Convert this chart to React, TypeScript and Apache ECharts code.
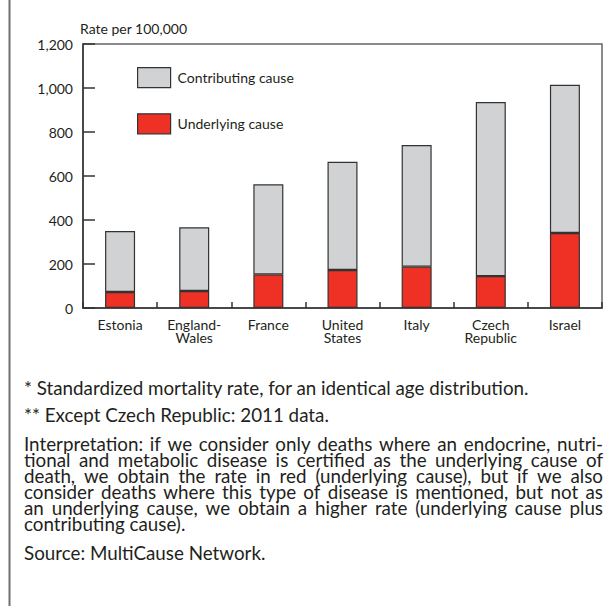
import React, { useEffect, useRef } from 'react';
import * as echarts from 'echarts';

const categories = ['Estonia', 'England-\nWales', 'France', 'United\nStates', 'Italy', 'Czech\nRepublic', 'Israel'];
const underlying = [73, 77, 153, 173, 188, 145, 341];
const contributing = [277, 290, 409, 492, 553, 791, 674];
const yMin = 0;
const yMax = 1200;
const yInterval = 200;
const seriesNames = ['Underlying cause', 'Contributing cause'];
const legendOrder = ['Contributing cause', 'Underlying cause'];
const axisTitle = 'Rate per 100,000';
const notes = [
  '* Standardized mortality rate, for an identical age distribution.',
  '** Except Czech Republic: 2011 data.',
];
const interpretation = [
  'Interpretation: if we consider only deaths where an endocrine, nutri-',
  'tional and metabolic disease is certified as the underlying cause of',
  'death, we obtain the rate in red (underlying cause), but if we also',
  'consider deaths where this type of disease is mentioned, but not as',
  'an underlying cause, we obtain a higher rate (underlying cause plus',
  'contributing cause).',
];
const sourceText = 'Source: MultiCause Network.';

const FONT = 'Lato, "Open Sans", sans-serif';
const TEXT = '#231f20';

export default function App() {
  const ref = useRef<HTMLDivElement>(null);
  useEffect(() => {
    if (!ref.current) return;
    const chart = echarts.init(ref.current, undefined, { renderer: 'svg' });
    const canvas = document.createElement('canvas');
    const ctx = canvas.getContext('2d') as CanvasRenderingContext2D;
    const fs = 18.8;
    const measure = (t: string) => {
      ctx.font = `${fs}px Lato`;
      return ctx.measureText(t).width;
    };

    const textLeft = 24;
    const textRight = 603;
    const elements: any[] = [];
    elements.push({
      type: 'line',
      shape: { x1: 9.5, y1: 0, x2: 9.5, y2: 606 },
      style: { stroke: '#707070', lineWidth: 2 },
    });
    elements.push({
      type: 'text',
      x: 80,
      y: 28,
      style: { text: axisTitle, font: `14px ${FONT}`, fill: TEXT, verticalAlign: 'middle' },
    });
    const addText = (t: string, x: number, y: number) =>
      elements.push({
        type: 'text',
        x,
        y,
        style: {
          text: t,
          font: `${fs}px ${FONT}`,
          lineHeight: 15,
          fill: TEXT,
          verticalAlign: 'middle',
        },
      });
    addText(notes[0], textLeft, 387);
    addText(notes[1], textLeft, 414);
    interpretation.forEach((line, i) => {
      const y = 443 + 16.1 * i;
      if (i === interpretation.length - 1) {
        addText(line, textLeft, y);
        return;
      }
      const words = line.split(' ');
      const widths = words.map((w) => measure(w));
      const sum = widths.reduce((a, b) => a + b, 0);
      let gap = (textRight - textLeft - sum) / (words.length - 1);
      if (gap < 2) gap = 2;
      let x = textLeft;
      words.forEach((w, k) => {
        addText(w, x, y);
        x += widths[k] + gap;
      });
    });
    addText(sourceText, textLeft, 552);

    chart.setOption({
      animation: false,
      textStyle: { fontFamily: FONT },
      grid: {
        left: 83,
        top: 44,
        width: 519,
        height: 264,
        show: true,
        borderColor: '#666',
        borderWidth: 1.5,
        containLabel: false,
      },
      legend: {
        orient: 'vertical',
        left: 137,
        top: 67,
        padding: 0,
        itemWidth: 33,
        itemHeight: 20,
        itemGap: 25,
        icon: 'rect',
        data: legendOrder,
        itemStyle: { borderColor: '#333', borderWidth: 1.2 },
        textStyle: { fontSize: 14, color: TEXT, fontFamily: FONT, padding: [8, 0, 0, 2] },
        selectedMode: false,
      },
      xAxis: {
        type: 'category',
        data: categories,
        axisLine: { lineStyle: { color: '#333', width: 1.5 } },
        axisTick: { show: true, inside: true, length: 6, lineStyle: { color: '#333', width: 1.5 } },
        axisLabel: { color: TEXT, fontSize: 14, lineHeight: 13, margin: 10, fontFamily: FONT, interval: 0 },
        splitLine: { show: false },
      },
      yAxis: {
        type: 'value',
        min: yMin,
        max: yMax,
        interval: yInterval,
        axisLine: { show: true, lineStyle: { color: '#333', width: 1.5 } },
        axisTick: { show: true, inside: true, length: 12, lineStyle: { color: '#333', width: 1.5 } },
        axisLabel: {
          color: TEXT,
          fontSize: 14,
          margin: 10,
          fontFamily: FONT,
          formatter: (v: number) => v.toLocaleString('en-US'),
        },
        splitLine: { show: false },
      },
      series: [
        {
          name: seriesNames[0],
          type: 'bar',
          stack: 'total',
          data: underlying,
          barWidth: 30,
          itemStyle: { color: '#ee3124', borderColor: '#333', borderWidth: 1.2 },
        },
        {
          name: seriesNames[1],
          type: 'bar',
          stack: 'total',
          data: contributing,
          barWidth: 30,
          itemStyle: { color: '#d1d2d4', borderColor: '#333', borderWidth: 1.2 },
        },
      ],
      graphic: elements,
    });
    return () => chart.dispose();
  }, []);
  return (
    <div
      ref={ref}
      style={{ position: 'fixed', left: 0, top: 0, width: 614, height: 606, background: '#fff' }}
    />
  );
}
